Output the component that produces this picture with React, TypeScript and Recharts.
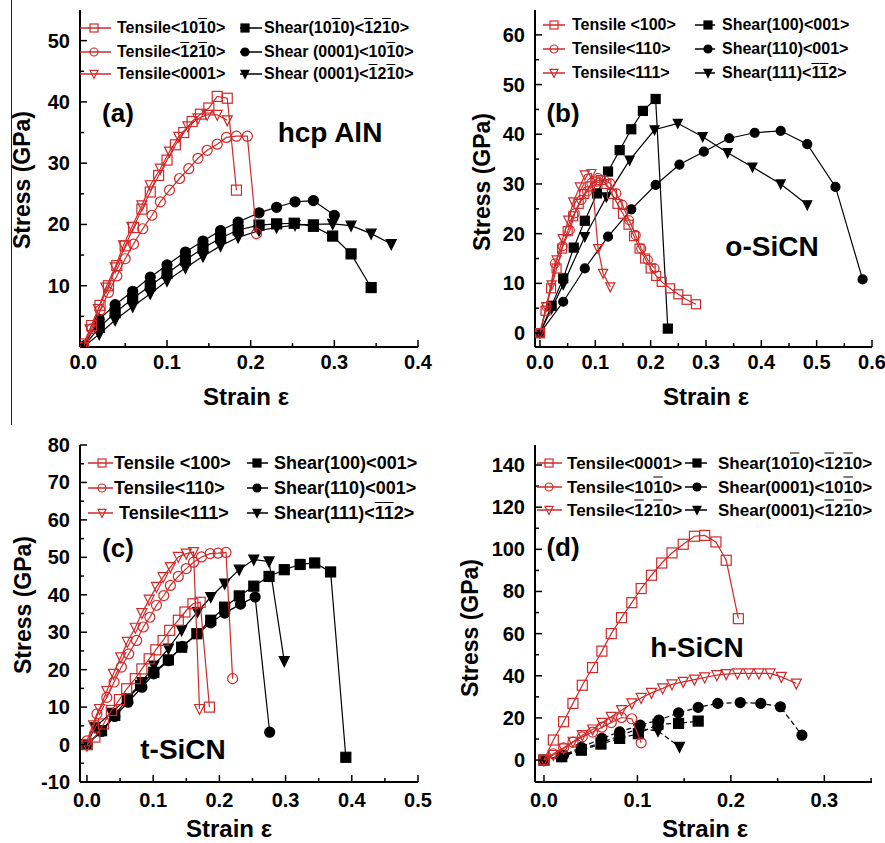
import { ScatterChart, Scatter, XAxis, YAxis } from "recharts";

const RED = "#d02a2a";
const BLACK = "#000";
const FONT = '"Liberation Sans", Arial, Helvetica, sans-serif';

type Pt = [number, number];
type Kind = "square" | "circle" | "tri";

// (a) hcp AlN
const aTensile1010: Pt[] = [[0, 0.5], [0.01, 3.5], [0.02, 6.8], [0.03, 10], [0.04, 13.3], [0.05, 16.5], [0.06, 19.5], [0.07, 22.5], [0.08, 25.3], [0.09, 28], [0.1, 30.5], [0.11, 33], [0.12, 35], [0.13, 36.8], [0.14, 38], [0.15, 39], [0.16, 40.9], [0.172, 40.6], [0.183, 25.6]];
const aTensile1210: Pt[] = [[0, 0], [0.01, 3], [0.02, 6], [0.03, 8.9], [0.04, 11.6], [0.05, 14.4], [0.06, 16.8], [0.071, 19.3], [0.082, 21.5], [0.092, 23.7], [0.103, 25.6], [0.115, 27.5], [0.126, 29.1], [0.137, 30.8], [0.148, 32.1], [0.16, 33.1], [0.171, 34.2], [0.183, 34.4], [0.196, 34.4], [0.207, 18.5]];
const aTensile0001: Pt[] = [[0, 0], [0.008, 2.9], [0.018, 6.2], [0.027, 9.7], [0.038, 13], [0.048, 16.6], [0.058, 19.6], [0.07, 23.1], [0.08, 26.4], [0.092, 29.1], [0.103, 31.9], [0.114, 34.3], [0.125, 36], [0.137, 37.3], [0.148, 37.9], [0.16, 37.9], [0.172, 37]];
const aShear1010: Pt[] = [[0, 0], [0.019, 3.2], [0.038, 5.6], [0.059, 7.9], [0.08, 10], [0.1, 12], [0.122, 14.2], [0.143, 16.1], [0.164, 17.8], [0.185, 19.1], [0.21, 19.9], [0.231, 20.1], [0.252, 20.2], [0.275, 19.7], [0.298, 18.1], [0.32, 15.2], [0.344, 9.7]];
const aShear0001a: Pt[] = [[0, 0], [0.019, 4.5], [0.038, 6.9], [0.059, 9.1], [0.08, 11.4], [0.1, 13.4], [0.122, 15.5], [0.143, 17.3], [0.164, 19], [0.185, 20.4], [0.21, 21.9], [0.231, 22.8], [0.253, 23.7], [0.275, 23.9], [0.3, 21.5]];
const aShear0001b: Pt[] = [[0, 0], [0.019, 2.1], [0.038, 4.4], [0.059, 6.6], [0.08, 8.7], [0.1, 10.8], [0.122, 12.9], [0.143, 14.8], [0.164, 16.5], [0.185, 17.9], [0.21, 19], [0.231, 19.5], [0.253, 19.9], [0.275, 20], [0.298, 20.1], [0.32, 19.8], [0.344, 18.5], [0.368, 16.8]];

// (b) o-SiCN
const bTensile100: Pt[] = [[0, 0], [0.01, 4.5], [0.02, 9], [0.03, 13], [0.04, 17], [0.05, 20.5], [0.06, 23.5], [0.07, 26], [0.08, 28], [0.09, 29.5], [0.1, 30.5], [0.11, 30.8], [0.12, 30], [0.13, 28], [0.14, 26], [0.15, 24], [0.16, 21.8], [0.17, 19.5], [0.18, 17], [0.19, 15], [0.2, 13], [0.21, 11.5], [0.22, 10.3], [0.235, 9], [0.25, 7.8], [0.265, 6.7], [0.282, 5.8]];
const bTensile110: Pt[] = [[0, 0], [0.012, 5.3], [0.027, 14], [0.041, 17.5], [0.054, 20.7], [0.063, 24.1], [0.075, 26.8], [0.085, 28.5], [0.093, 30.2], [0.105, 31.2], [0.116, 30.8], [0.127, 30.1], [0.138, 28.1], [0.149, 25.8], [0.161, 22.7], [0.173, 19.7], [0.183, 17], [0.195, 14.7], [0.207, 13]];
const bTensile111: Pt[] = [[0, 0], [0.011, 5.3], [0.021, 9.7], [0.03, 14.7], [0.041, 19], [0.051, 22.7], [0.06, 26.4], [0.072, 29.4], [0.081, 31.8], [0.093, 32.1], [0.105, 17], [0.114, 12], [0.127, 9.3]];
const bShear100: Pt[] = [[0, 0], [0.021, 5.5], [0.042, 11], [0.061, 17.2], [0.081, 22.6], [0.103, 28.1], [0.123, 32.5], [0.144, 36.8], [0.165, 41], [0.186, 44.7], [0.209, 47.1], [0.231, 0.9]];
const bShear110: Pt[] = [[0, 0], [0.042, 6.3], [0.081, 13], [0.123, 19.4], [0.165, 24.9], [0.209, 29.8], [0.252, 33.9], [0.296, 36.5], [0.342, 39.2], [0.388, 40.3], [0.435, 40.7], [0.483, 38], [0.534, 29.4], [0.583, 10.8]];
const bShear111: Pt[] = [[0, 0], [0.021, 4.9], [0.042, 9.8], [0.081, 19.4], [0.12, 27.4], [0.162, 34.8], [0.207, 40.9], [0.249, 42.2], [0.294, 39.5], [0.339, 36.3], [0.384, 33.4], [0.435, 30], [0.483, 25.8]];

// (c) t-SiCN
const cTensile100: Pt[] = [[0, 0], [0.012, 2], [0.025, 5.5], [0.037, 9.1], [0.049, 12], [0.06, 14.9], [0.073, 17.6], [0.083, 20.2], [0.094, 22.9], [0.104, 25.3], [0.115, 27.8], [0.125, 30.5], [0.138, 33.2], [0.148, 35.4], [0.16, 37.6], [0.171, 38], [0.185, 10]];
const cTensile110: Pt[] = [[0, 1], [0.015, 8.2], [0.03, 12.6], [0.041, 16.7], [0.052, 20.7], [0.063, 24.2], [0.075, 27.8], [0.085, 31.4], [0.095, 34], [0.105, 37.2], [0.116, 39.8], [0.126, 42.5], [0.138, 44.9], [0.15, 47], [0.161, 48.7], [0.173, 50.1], [0.186, 51], [0.198, 51.1], [0.21, 51.3], [0.22, 17.6]];
const cTensile111: Pt[] = [[0, -0.3], [0.01, 5.1], [0.019, 9.5], [0.03, 14.3], [0.04, 18.9], [0.051, 23.3], [0.061, 27.4], [0.073, 31.2], [0.083, 35.1], [0.094, 38.7], [0.105, 42.1], [0.115, 44.7], [0.126, 47.4], [0.138, 50.1], [0.15, 51], [0.161, 51.4], [0.17, 9.5]];
const cShear100: Pt[] = [[0, 0], [0.022, 3.7], [0.042, 7.8], [0.061, 12.2], [0.081, 15.8], [0.101, 19.3], [0.123, 22.6], [0.143, 26], [0.166, 29.6], [0.187, 33.2], [0.208, 36.7], [0.23, 39.7], [0.252, 42.3], [0.275, 44.9], [0.298, 46.7], [0.322, 48.1], [0.344, 48.5], [0.368, 46.1], [0.391, -3.4]];
const cShear110: Pt[] = [[0, 0], [0.022, 3.5], [0.042, 7.5], [0.062, 11.3], [0.083, 15.3], [0.101, 18.9], [0.123, 22.4], [0.144, 26.2], [0.167, 29.6], [0.187, 32.5], [0.208, 35.1], [0.232, 37.5], [0.254, 39.4], [0.276, 3.3]];
const cShear111: Pt[] = [[0, 0], [0.012, 4.6], [0.037, 8.5], [0.06, 12.2], [0.083, 16.7], [0.101, 21.1], [0.123, 25.6], [0.143, 30.5], [0.167, 35.4], [0.187, 39.4], [0.208, 43], [0.23, 46.7], [0.252, 49.4], [0.275, 48.9], [0.298, 22.3]];

// (d) h-SiCN
const dTensile0001: Pt[] = [[0, 0], [0.01, 9.5], [0.021, 18.2], [0.031, 26.9], [0.041, 35.5], [0.052, 43.9], [0.062, 51.7], [0.072, 60], [0.083, 67.6], [0.094, 74.7], [0.104, 81.4], [0.115, 87.7], [0.126, 93.5], [0.137, 98.3], [0.149, 102.4], [0.161, 106.2], [0.172, 106.6], [0.184, 103.5], [0.195, 94.8], [0.208, 67.1]];
const dTensile1010: Pt[] = [[0, 0], [0.01, 3], [0.021, 5.8], [0.031, 8.5], [0.041, 11], [0.052, 13.3], [0.062, 15.6], [0.072, 17.8], [0.083, 20.2], [0.094, 19.6], [0.104, 8.2]];
const dTensile1210: Pt[] = [[0, 0], [0.01, 2.4], [0.021, 5.5], [0.031, 8.7], [0.041, 11.8], [0.052, 14.5], [0.062, 17.7], [0.072, 20.5], [0.083, 23.7], [0.094, 26.9], [0.104, 29.5], [0.115, 31.9], [0.127, 34], [0.137, 35.9], [0.149, 37.1], [0.161, 38.2], [0.172, 39.2], [0.185, 40.3], [0.195, 40.8], [0.207, 41.1], [0.219, 41.1], [0.23, 41.1], [0.242, 41.1], [0.254, 39.5], [0.27, 36.3]];
const dShear1010: Pt[] = [[0, 0], [0.019, 1.6], [0.04, 4.7], [0.061, 7.6], [0.081, 10.3], [0.101, 12.5], [0.122, 17], [0.144, 17.4], [0.165, 18.5]];
const dShear0001a: Pt[] = [[0, 0], [0.021, 2.4], [0.04, 6], [0.062, 10.3], [0.081, 13.4], [0.103, 16.6], [0.123, 19], [0.144, 22.4], [0.165, 25], [0.186, 26.9], [0.21, 27.3], [0.232, 26.9], [0.253, 25.3], [0.276, 11.8]];
const dShear0001b: Pt[] = [[0, 0], [0.019, 1.9], [0.04, 5.2], [0.061, 8.3], [0.081, 11.4], [0.101, 15], [0.122, 13.8], [0.145, 6.3]];

// ticks (minor + major)
const aXTicks = [0, 0.05, 0.1, 0.15, 0.2, 0.25, 0.3, 0.35, 0.4];
const aYTicks = [5, 10, 15, 20, 25, 30, 35, 40, 45, 50];
const bXTicks = [0, 0.05, 0.1, 0.15, 0.2, 0.25, 0.3, 0.35, 0.4, 0.45, 0.5, 0.55, 0.6];
const bYTicks = [0, 5, 10, 15, 20, 25, 30, 35, 40, 45, 50, 55, 60];
const cXTicks = [0, 0.05, 0.1, 0.15, 0.2, 0.25, 0.3, 0.35, 0.4, 0.45, 0.5];
const cYTicks = [-10, -5, 0, 5, 10, 15, 20, 25, 30, 35, 40, 45, 50, 55, 60, 65, 70, 75, 80];
const dXTicks = [0, 0.05, 0.1, 0.15, 0.2, 0.25, 0.3, 0.35];
const dYTicks = [0, 10, 20, 30, 40, 50, 60, 70, 80, 90, 100, 110, 120, 130, 140];

type Series = { name: string; pts: Pt[]; kind: Kind; tensile: boolean };

type Col = { x1: number; x2: number; mx: number; tx: number };
type PanelCfg = {
	left: number;
	top: number;
	width: number;
	height: number;
	plotLeft: number;
	plotRight: number;
	plotTop: number;
	plotBottom: number;
	xDomain: [number, number];
	yDomain: [number, number];
	xTicks: number[];
	yTicks: number[];
	xMajor: number;
	yMajor: number;
	xLabelDy: number;
	dashShear: boolean;
	size: number;
	series: Series[];
	legendRows: number[];
	legendLeft: Col;
	legendRight: Col;
	legendFont: number;
	tag: { text: string; x: number; y: number };
	name: { text: string; x: number; y: number };
	yTitle: { x: number; y: number };
	xTitle: { x: number; y: number };
};

const panels: PanelCfg[] = [
	{
		left: 0, top: 0, width: 440, height: 420,
		plotLeft: 80, plotRight: 418, plotTop: 10, plotBottom: 347,
		xDomain: [-0.004, 0.4], yDomain: [0, 55],
		xTicks: aXTicks, yTicks: aYTicks, xMajor: 0.1, yMajor: 10, xLabelDy: 15,
		dashShear: false, size: 10,
		series: [
			{ name: "Tensile<10~10>", pts: aTensile1010, kind: "square", tensile: true },
			{ name: "Tensile<~12~10>", pts: aTensile1210, kind: "circle", tensile: true },
			{ name: "Tensile<0001>", pts: aTensile0001, kind: "tri", tensile: true },
			{ name: "Shear(10~10)<~12~10>", pts: aShear1010, kind: "square", tensile: false },
			{ name: "Shear (0001)<10~10>", pts: aShear0001a, kind: "circle", tensile: false },
			{ name: "Shear (0001)<~12~10>", pts: aShear0001b, kind: "tri", tensile: false },
		],
		legendRows: [28, 52, 74],
		legendLeft: { x1: 80, x2: 111, mx: 94, tx: 117 },
		legendRight: { x1: 240, x2: 262, mx: 245, tx: 264 },
		legendFont: 16,
		tag: { text: "(a)", x: 118, y: 113 },
		name: { text: "hcp AlN", x: 330, y: 133 },
		yTitle: { x: 22, y: 180 },
		xTitle: { x: 246, y: 397 },
	},
	{
		left: 440, top: 0, width: 445, height: 420,
		plotLeft: 95, plotRight: 432, plotTop: 10, plotBottom: 347,
		xDomain: [-0.009, 0.6], yDomain: [-2.8, 65],
		xTicks: bXTicks, yTicks: bYTicks, xMajor: 0.1, yMajor: 10, xLabelDy: 15,
		dashShear: false, size: 9,
		series: [
			{ name: "Tensile <100>", pts: bTensile100, kind: "square", tensile: true },
			{ name: "Tensile<110>", pts: bTensile110, kind: "circle", tensile: true },
			{ name: "Tensile<111>", pts: bTensile111, kind: "tri", tensile: true },
			{ name: "Shear(100)<001>", pts: bShear100, kind: "square", tensile: false },
			{ name: "Shear(110)<001>", pts: bShear110, kind: "circle", tensile: false },
			{ name: "Shear(111)<~1~12>", pts: bShear111, kind: "tri", tensile: false },
		],
		legendRows: [25, 49, 73],
		legendLeft: { x1: 543, x2: 565, mx: 554, tx: 572 },
		legendRight: { x1: 695, x2: 715, mx: 708, tx: 722 },
		legendFont: 16,
		tag: { text: "(b)", x: 563, y: 113 },
		name: { text: "o-SiCN", x: 772, y: 247 },
		yTitle: { x: 482, y: 182 },
		xTitle: { x: 706, y: 397 },
	},
	{
		left: 0, top: 420, width: 440, height: 423,
		plotLeft: 80, plotRight: 418, plotTop: 25, plotBottom: 362,
		xDomain: [-0.0105, 0.5], yDomain: [-10, 80],
		xTicks: cXTicks, yTicks: cYTicks, xMajor: 0.1, yMajor: 10, xLabelDy: 18,
		dashShear: false, size: 10,
		series: [
			{ name: "Tensile <100>", pts: cTensile100, kind: "square", tensile: true },
			{ name: "Tensile<110>", pts: cTensile110, kind: "circle", tensile: true },
			{ name: " Tensile<111>", pts: cTensile111, kind: "tri", tensile: true },
			{ name: "Shear(100)<001>", pts: cShear100, kind: "square", tensile: false },
			{ name: "Shear(110)<001>", pts: cShear110, kind: "circle", tensile: false },
			{ name: "Shear(111)<~1~12>", pts: cShear111, kind: "tri", tensile: false },
		],
		legendRows: [463, 488, 513],
		legendLeft: { x1: 88, x2: 113, mx: 102, tx: 114 },
		legendRight: { x1: 247, x2: 268, mx: 257, tx: 274 },
		legendFont: 18,
		tag: { text: "(c)", x: 118, y: 548 },
		name: { text: "t-SiCN", x: 183, y: 750 },
		yTitle: { x: 23, y: 605 },
		xTitle: { x: 229, y: 829 },
	},
	{
		left: 440, top: 420, width: 445, height: 423,
		plotLeft: 95, plotRight: 432, plotTop: 25, plotBottom: 362,
		xDomain: [-0.0096, 0.351], yDomain: [-10.4, 149.5],
		xTicks: dXTicks, yTicks: dYTicks, xMajor: 0.1, yMajor: 20, xLabelDy: 18,
		dashShear: true, size: 10,
		series: [
			{ name: "Tensile<0001>", pts: dTensile0001, kind: "square", tensile: true },
			{ name: "Tensile<10~10>", pts: dTensile1010, kind: "circle", tensile: true },
			{ name: "Tensile<~12~10>", pts: dTensile1210, kind: "tri", tensile: true },
			{ name: "Shear(10~10)<~12~10>", pts: dShear1010, kind: "square", tensile: false },
			{ name: "Shear(0001)<10~10>", pts: dShear0001a, kind: "circle", tensile: false },
			{ name: "Shear(0001)<~12~10>", pts: dShear0001b, kind: "tri", tensile: false },
		],
		legendRows: [463, 487, 510],
		legendLeft: { x1: 537, x2: 562, mx: 549, tx: 567 },
		legendRight: { x1: 685, x2: 707, mx: 697, tx: 718 },
		legendFont: 17,
		tag: { text: "(d)", x: 563, y: 547 },
		name: { text: "h-SiCN", x: 697, y: 648 },
		yTitle: { x: 470, y: 628 },
		xTitle: { x: 705, y: 829 },
	},
];

const isMajor = (v: number, step: number) => Math.abs(v / step - Math.round(v / step)) < 1e-6;

function Marker({ kind, cx, cy, s, tensile }: { kind: Kind; cx: number; cy: number; s: number; tensile: boolean }) {
	const fill = tensile ? "none" : BLACK;
	const stroke = tensile ? RED : BLACK;
	const sw = 1.2;
	if (kind === "square")
		return <rect x={cx - s / 2} y={cy - s / 2} width={s} height={s} fill={fill} stroke={stroke} strokeWidth={sw} />;
	if (kind === "circle") return <circle cx={cx} cy={cy} r={s / 2} fill={fill} stroke={stroke} strokeWidth={sw} />;
	const h = s * 1.0;
	return (
		<polygon
			points={`${cx - s / 2},${cy - h * 0.45} ${cx + s / 2},${cy - h * 0.45} ${cx},${cy + h * 0.55}`}
			fill={fill}
			stroke={stroke}
			strokeWidth={sw}
		/>
	);
}

function Miller({ text }: { text: string }) {
	const parts: React.ReactNode[] = [];
	for (let i = 0; i < text.length; i++) {
		if (text[i] === "~") {
			parts.push(
				<span key={i} style={{ textDecoration: "overline" }}>
					{text[i + 1]}
				</span>
			);
			i++;
		} else parts.push(text[i]);
	}
	return <>{parts}</>;
}

function XTick({ x, y, payload, major, dy }: any) {
	const v = payload.value as number;
	const maj = isMajor(v, major);
	return (
		<g>
			<line x1={x} x2={x} y1={y} y2={y - (maj ? 7 : 4)} stroke={BLACK} strokeWidth={1.5} />
			{maj && (
				<text x={x} y={y + dy} textAnchor="middle" dominantBaseline="central" fontFamily={FONT} fontWeight="bold" fontSize={20} fill={BLACK}>
					{v.toFixed(1)}
				</text>
			)}
		</g>
	);
}

function YTick({ x, y, payload, major }: any) {
	const v = payload.value as number;
	const maj = isMajor(v, major);
	return (
		<g>
			<line x1={x} x2={x + (maj ? 7 : 4)} y1={y} y2={y} stroke={BLACK} strokeWidth={1.5} />
			{maj && (
				<text x={x - 10} y={y} textAnchor="end" dominantBaseline="central" fontFamily={FONT} fontWeight="bold" fontSize={20} fill={BLACK}>
					{String(v)}
				</text>
			)}
		</g>
	);
}

function Panel({ p }: { p: PanelCfg }) {
	const axisLine = { stroke: BLACK, strokeWidth: 2 };
	// shear (black) first, tensile (red) on top
	const order = [...p.series.filter((s) => !s.tensile), ...p.series.filter((s) => s.tensile)];
	return (
		<div style={{ position: "absolute", left: p.left, top: p.top, width: p.width, height: p.height }}>
			<ScatterChart width={p.width} height={p.height} margin={{ top: p.plotTop, right: p.width - p.plotRight, bottom: 0, left: 0 }}>
				<XAxis
					xAxisId="b"
					type="number"
					dataKey="x"
					domain={p.xDomain}
					ticks={p.xTicks}
					interval={0}
					allowDataOverflow
					height={p.height - p.plotBottom}
					tickSize={0}
					tickMargin={0}
					tickLine={false}
					axisLine={axisLine}
					tick={(t: any) => <XTick {...t} major={p.xMajor} dy={p.xLabelDy} />}
				/>
				<XAxis xAxisId="t" orientation="top" type="number" dataKey="x" domain={p.xDomain} allowDataOverflow height={0} tick={false} tickLine={false} axisLine={axisLine} />
				<YAxis
					yAxisId="l"
					type="number"
					dataKey="y"
					domain={p.yDomain}
					ticks={p.yTicks}
					interval={0}
					allowDataOverflow
					width={p.plotLeft}
					tickSize={0}
					tickMargin={0}
					tickLine={false}
					axisLine={axisLine}
					tick={(t: any) => <YTick {...t} major={p.yMajor} />}
				/>
				<YAxis yAxisId="r" orientation="right" type="number" dataKey="y" domain={p.yDomain} allowDataOverflow width={0} tick={false} tickLine={false} axisLine={axisLine} />
				{order.map((s) => {
					const color = s.tensile ? RED : BLACK;
					return (
						<Scatter
							key={s.name}
							xAxisId="b"
							yAxisId="l"
							data={s.pts.map(([x, y]) => ({ x, y }))}
							fill={color}
							line={{ stroke: color, strokeWidth: 1.2, strokeDasharray: !s.tensile && p.dashShear ? "5 3" : undefined }}
							lineType="joint"
							shape={(sp: any) => <Marker kind={s.kind} cx={sp.cx} cy={sp.cy} s={p.size} tensile={s.tensile} />}
							isAnimationActive={false}
						/>
					);
				})}
			</ScatterChart>
		</div>
	);
}

const textStyle = (size: number): React.CSSProperties => ({
	position: "absolute",
	fontFamily: FONT,
	fontWeight: "bold",
	fontSize: size,
	lineHeight: 1,
	color: BLACK,
	whiteSpace: "pre",
});

export default function App() {
	return (
		<div style={{ position: "fixed", left: 0, top: 0, width: 885, height: 843, background: "#fff", overflow: "hidden" }}>
			<div style={{ position: "absolute", left: 11, top: 0, width: 1, height: 425, background: "#222" }} />
			{panels.map((p, i) => (
				<Panel key={i} p={p} />
			))}
			<svg style={{ position: "absolute", left: 0, top: 0, pointerEvents: "none" }} width={885} height={843}>
				{panels.map((p, pi) =>
					p.series.map((s, si) => {
						const col = si < 3 ? p.legendLeft : p.legendRight;
						const y = p.legendRows[si % 3];
						const color = s.tensile ? RED : BLACK;
						return (
							<g key={`${pi}-${si}`}>
								<line x1={col.x1} x2={col.x2} y1={y} y2={y} stroke={color} strokeWidth={1.5} />
								<Marker kind={s.kind} cx={col.mx} cy={y} s={8} tensile={s.tensile} />
							</g>
						);
					})
				)}
			</svg>
			{panels.map((p, pi) => (
				<div key={`t${pi}`}>
					{p.series.map((s, si) => {
						const col = si < 3 ? p.legendLeft : p.legendRight;
						const y = p.legendRows[si % 3];
						return (
							<div key={si} style={{ ...textStyle(p.legendFont), left: col.tx, top: y, transform: "translateY(-50%)" }}>
								<Miller text={s.name} />
							</div>
						);
					})}
					<div style={{ ...textStyle(26), left: p.tag.x, top: p.tag.y, transform: "translate(-50%,-50%)" }}>{p.tag.text}</div>
					<div style={{ ...textStyle(28), left: p.name.x, top: p.name.y, transform: "translate(-50%,-50%)" }}>{p.name.text}</div>
					<div style={{ ...textStyle(23), left: p.yTitle.x, top: p.yTitle.y, transform: "translate(-50%,-50%) rotate(-90deg)" }}>Stress (GPa)</div>
					<div style={{ ...textStyle(24), left: p.xTitle.x, top: p.xTitle.y, transform: "translate(-50%,-50%)" }}>Strain ε</div>
				</div>
			))}
		</div>
	);
}
